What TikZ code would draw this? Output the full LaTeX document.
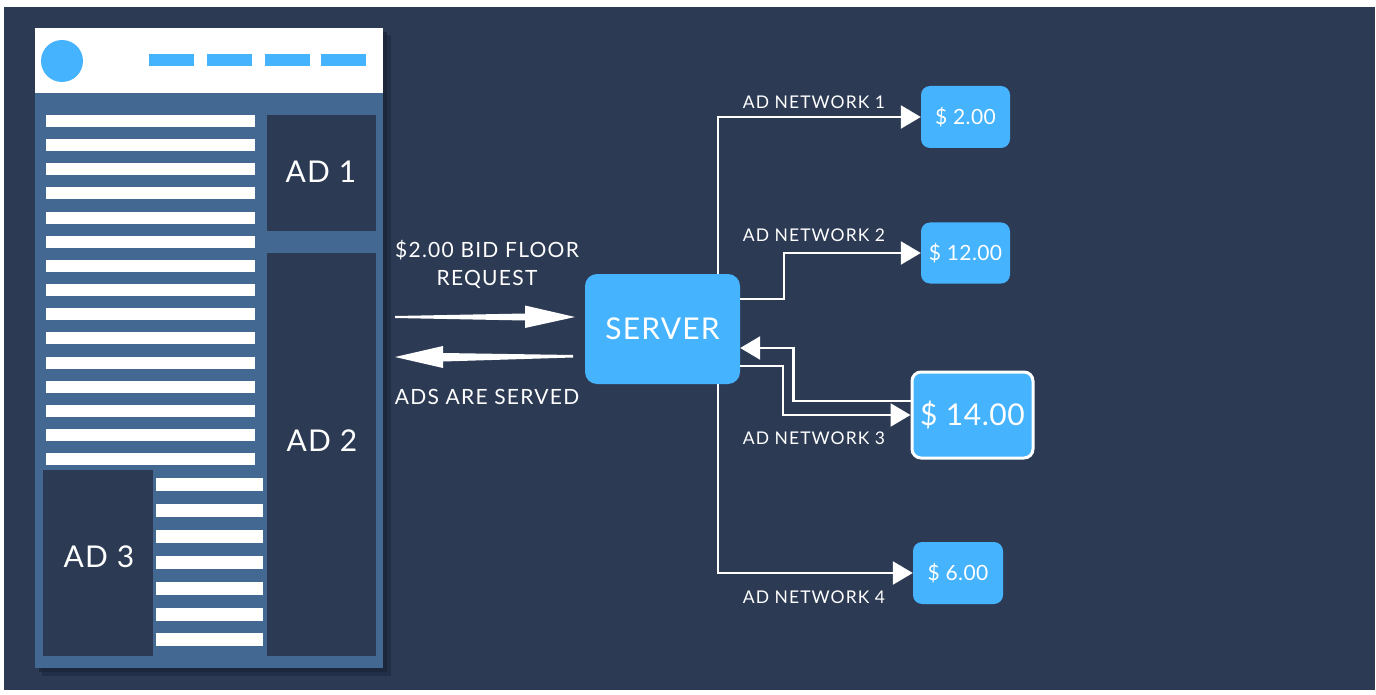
\documentclass[tikz,border=0pt]{standalone}
\usepackage{fontspec}
\setmainfont{Lato}
\newfontfamily\widea[LetterSpace=6]{Lato}
\newfontfamily\wideb[LetterSpace=4]{Lato}
\newfontfamily\widec[LetterSpace=2]{Lato}
\usetikzlibrary{arrows.meta}
\definecolor{bgc}{HTML}{2C3A54}
\definecolor{pagec}{HTML}{436891}
\definecolor{adc}{HTML}{2C3A54}
\definecolor{bluec}{HTML}{45B3FD}
\definecolor{shadc}{HTML}{1C2639}
\tikzset{
  adbox/.style={fill=adc, text=white, inner sep=0pt},
  adlabel/.style={text=white, inner sep=0pt, font=\wideb\fontsize{30}{32}\selectfont},
  serverbox/.style={fill=bluec, text=white, rounded corners=12pt, inner sep=0pt, font=\wideb\fontsize{30}{32}\selectfont},
  pricebox/.style={fill=bluec, text=white, rounded corners=9pt, inner sep=0pt, font=\widec\fontsize{21}{24}\selectfont},
  conn/.style={draw=white, line width=2.5pt, -{Triangle[length=20pt,width=23pt]}},
  netlabel/.style={text=white, inner sep=0pt, font=\widea\fontsize{17.5}{19}\selectfont},
  flowlabel/.style={text=white, inner sep=0pt, align=center, font=\widea\fontsize{21}{28}\selectfont},
  textline/.style={fill=white}
}
\begin{document}
\begin{tikzpicture}[x=1pt,y=-1pt]
\useasboundingbox (0,0) rectangle (1376,695);
\fill[white] (0,0) rectangle (1376,695);
\fill[bgc] (4,7) rectangle (1375,690);
% page with shadow
\fill[shadc, opacity=0.5] (42,35) rectangle (391,676);
\fill[shadc, opacity=0.8] (39,32) rectangle (387,672);
\fill[pagec] (35,93) rectangle (383,668);
\fill[white] (35,28) rectangle (383,93);
\fill[bluec] (62,61) circle (21);
\foreach \x in {149,207,265,321} \fill[bluec] (\x,54) rectangle ({\x+45},66);
\foreach \i in {0,...,14} \fill[textline] (46,{115+24.15*\i}) rectangle (255,{127+24.15*\i});
\foreach \i in {0,...,6} \fill[textline] (156,{478+25.9*\i}) rectangle (263,{491+25.9*\i});
\node[adbox, minimum width=109pt, minimum height=116pt] (ad1) at (321.5,173) {};
\node[adlabel] (ad1label) at (321,172) {AD 1};
\node[adbox, minimum width=109pt, minimum height=403pt] (ad2) at (321.5,454.5) {};
\node[adlabel] (ad2label) at (322,441) {AD 2};
\node[adbox, minimum width=110pt, minimum height=186pt] (ad3) at (98,563) {};
\node[adlabel] (ad3label) at (99,557) {AD 3};
% server and price boxes
\node[serverbox, minimum width=155pt, minimum height=110pt] (server) at (662.5,329) {SERVER};
\node[pricebox, minimum width=89pt, minimum height=62pt] (p1) at (965.5,117) {\$ 2.00};
\node[pricebox, minimum width=89pt, minimum height=61pt] (p2) at (965.5,253) {\$ 12.00};
\node[pricebox, draw=white, line width=3pt, minimum width=121pt, minimum height=86pt, font=\widec\fontsize{30}{32}\selectfont] (p3) at (972.5,415) {\$ 14.00};
\node[pricebox, minimum width=90pt, minimum height=62pt] (p4) at (958,573) {\$ 6.00};
% connectors
\draw[conn] ([xshift=55.5pt]server.north) |- (p1.west);
\draw[conn] ([yshift=30pt]server.east) -- ++(44,0) |- (p2.west);
\draw[conn] ([yshift=-37pt]server.east) -- ++(43,0) |- (p3.west);
\draw[conn] ([yshift=14pt]p3.west) -- ++(-117,0) |- ([yshift=-19pt]server.east);
\draw[conn] ([xshift=55.5pt]server.south) |- (p4.west);
% network labels
\node[netlabel] (n1) at (814,102) {AD NETWORK 1};
\node[netlabel] (n2) at (814,235) {AD NETWORK 2};
\node[netlabel] (n3) at (814,438) {AD NETWORK 3};
\node[netlabel] (n4) at (814,597) {AD NETWORK 4};
% request / response
\node[flowlabel] (req) at (487,264) {\$2.00 BID FLOOR\\REQUEST};
\node[flowlabel] (served) at (487,397) {ADS ARE SERVED};
\coordinate (reqtip) at (575,317);
\coordinate (restip) at (395,357);
\fill[white] (395,316) -- (525,313.5) -- (525,305.5) -- (reqtip) -- (525,328) -- (525,320.5) -- (395,318) -- cycle;
\fill[white] (restip) -- (443,346) -- (443,353) -- (573,355) -- (573,357.5) -- (443,361.5) -- (443,368) -- cycle;
\end{tikzpicture}
\end{document}
